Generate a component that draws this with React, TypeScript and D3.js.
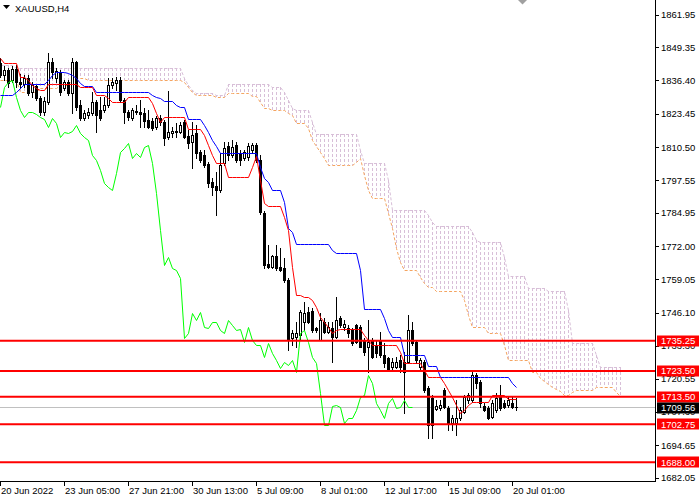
import React from "react";
import * as d3 from "d3";

// ---------- DATA ----------
const symbolTitle = "XAUUSD,H4";

const open = [
  1843.1, 1838.5, 1840.4, 1836.5, 1840.8, 1835.7, 1834.9, 1837.3, 1831.9, 1834.2,
  1829.5, 1824.1, 1828.0, 1843.5, 1837.3, 1839.6, 1833.4, 1835.7, 1831.5, 1843.5,
  1826.9, 1821.8, 1822.9, 1823.7, 1828.0, 1824.9, 1824.9, 1826.9, 1834.5, 1835.3,
  1836.5, 1828.8, 1824.1, 1821.8, 1824.5, 1824.1, 1823.7, 1821.0, 1820.6, 1818.3,
  1821.8, 1820.2, 1814.4, 1815.9, 1816.7, 1816.3, 1820.2, 1814.8, 1812.4, 1815.9,
  1808.6, 1807.4, 1803.9, 1796.9, 1795.4, 1793.8, 1804.3, 1810.9, 1807.4, 1811.3,
  1808.2, 1806.3, 1806.6, 1809.3, 1811.3, 1805.5, 1784.9, 1765.0, 1763.9, 1768.3,
  1763.9, 1763.5, 1758.8, 1736.3, 1736.7, 1737.5, 1742.5, 1746.4, 1746.8, 1740.2,
  1735.5, 1742.5, 1738.6, 1740.2, 1736.7, 1744.1, 1740.6, 1740.2, 1739.4, 1741.4,
  1740.6, 1735.5, 1732.9, 1735.5, 1733.7, 1735.5, 1729.7, 1728.6, 1725.1, 1725.1,
  1727.8, 1727.0, 1727.0, 1739.4, 1734.8, 1725.1, 1727.0, 1716.9, 1712.9, 1708.7,
  1709.1, 1716.1, 1709.1, 1703.3, 1703.3, 1705.2, 1707.5, 1712.2, 1712.2, 1721.9,
  1719.2, 1709.9, 1709.1, 1705.6, 1708.3, 1713.4, 1711.0, 1710.3, 1711.0, 1709.4,
];

const high = [
  1845.1, 1842.0, 1841.2, 1842.0, 1842.4, 1838.9, 1838.5, 1838.5, 1835.7, 1834.5,
  1830.3, 1829.9, 1847.0, 1845.1, 1841.2, 1840.4, 1836.5, 1836.5, 1845.1, 1843.9,
  1828.8, 1824.9, 1825.7, 1831.9, 1828.8, 1829.9, 1829.9, 1837.3, 1837.3, 1837.7,
  1837.7, 1829.5, 1824.9, 1825.7, 1826.9, 1828.8, 1825.7, 1824.9, 1821.8, 1822.6,
  1822.9, 1821.0, 1832.3, 1818.3, 1819.8, 1820.2, 1821.0, 1817.1, 1820.2, 1819.1,
  1809.3, 1809.3, 1804.7, 1798.5, 1800.8, 1808.2, 1812.4, 1812.4, 1813.2, 1812.4,
  1809.3, 1809.3, 1812.1, 1812.1, 1812.1, 1807.4, 1785.6, 1772.4, 1768.6, 1772.4,
  1771.3, 1767.4, 1759.6, 1739.4, 1742.5, 1747.2, 1750.3, 1748.5, 1748.1, 1740.6,
  1746.0, 1744.1, 1742.5, 1742.5, 1752.2, 1744.9, 1743.3, 1741.4, 1740.2, 1741.7,
  1741.4, 1736.3, 1743.3, 1736.3, 1735.5, 1738.6, 1734.4, 1729.0, 1728.6, 1729.0,
  1729.7, 1730.9, 1745.2, 1742.5, 1735.5, 1728.6, 1727.8, 1717.7, 1714.1, 1712.2,
  1712.2, 1716.9, 1709.9, 1706.4, 1712.2, 1709.5, 1714.2, 1714.9, 1723.9, 1722.7,
  1720.0, 1711.0, 1709.9, 1712.2, 1714.9, 1718.1, 1712.2, 1713.4, 1713.4, 1713.0,
];

const low = [
  1837.7, 1836.5, 1833.8, 1835.7, 1833.8, 1833.4, 1833.8, 1830.7, 1829.9, 1828.8,
  1822.9, 1822.9, 1827.2, 1837.3, 1835.7, 1830.7, 1832.6, 1830.7, 1823.8, 1824.9,
  1821.0, 1821.0, 1821.8, 1822.9, 1816.3, 1821.0, 1824.1, 1826.0, 1833.4, 1832.6,
  1828.0, 1819.8, 1821.0, 1821.0, 1823.3, 1818.3, 1818.3, 1817.9, 1817.1, 1817.5,
  1819.1, 1811.3, 1813.6, 1814.4, 1814.4, 1815.9, 1814.0, 1810.2, 1802.4, 1806.2,
  1804.7, 1802.8, 1794.9, 1791.9, 1784.1, 1793.0, 1803.5, 1805.5, 1806.6, 1804.7,
  1803.5, 1805.5, 1805.5, 1808.2, 1804.7, 1784.5, 1763.5, 1763.5, 1763.5, 1762.7,
  1762.3, 1758.0, 1731.6, 1733.7, 1732.9, 1735.5, 1739.4, 1742.2, 1738.6, 1738.6,
  1735.5, 1738.2, 1738.2, 1727.0, 1736.3, 1740.6, 1739.4, 1736.7, 1733.7, 1734.4,
  1732.9, 1729.7, 1723.1, 1728.6, 1729.0, 1729.0, 1725.1, 1723.5, 1723.9, 1724.7,
  1723.1, 1707.1, 1726.6, 1733.7, 1726.6, 1723.9, 1715.3, 1697.5, 1697.5, 1708.3,
  1708.3, 1709.1, 1700.6, 1700.6, 1698.6, 1704.4, 1707.1, 1711.0, 1711.4, 1716.9,
  1709.5, 1707.9, 1704.8, 1705.2, 1707.5, 1708.3, 1709.1, 1709.5, 1709.1, 1708.3,
];

const close = [
  1838.5, 1840.4, 1835.3, 1840.8, 1835.7, 1834.9, 1837.3, 1831.5, 1834.5, 1829.5,
  1824.1, 1828.4, 1843.5, 1839.6, 1840.0, 1831.9, 1835.7, 1831.5, 1843.5, 1826.0,
  1821.8, 1823.7, 1824.1, 1828.0, 1822.9, 1821.8, 1826.9, 1834.5, 1835.7, 1836.5,
  1828.8, 1824.1, 1822.2, 1824.9, 1824.1, 1823.3, 1820.6, 1818.3, 1817.9, 1821.8,
  1820.2, 1814.0, 1816.3, 1816.7, 1816.3, 1819.1, 1814.4, 1812.1, 1815.2, 1808.2,
  1805.5, 1803.5, 1796.5, 1794.9, 1793.8, 1803.5, 1810.1, 1807.4, 1810.6, 1805.5,
  1805.5, 1808.6, 1810.9, 1811.3, 1805.5, 1785.2, 1764.7, 1763.9, 1768.3, 1763.5,
  1762.7, 1758.8, 1735.5, 1738.2, 1738.2, 1746.4, 1746.0, 1742.5, 1739.4, 1739.4,
  1743.3, 1738.6, 1740.6, 1736.7, 1743.3, 1741.4, 1741.7, 1738.2, 1734.4, 1734.8,
  1732.9, 1730.9, 1734.8, 1729.0, 1730.5, 1729.7, 1726.6, 1723.9, 1727.0, 1727.0,
  1725.1, 1723.1, 1739.4, 1734.4, 1727.8, 1727.8, 1716.1, 1702.5, 1702.5, 1709.9,
  1710.3, 1709.5, 1703.3, 1705.2, 1705.2, 1708.3, 1713.4, 1714.2, 1721.9, 1718.8,
  1711.0, 1708.3, 1705.2, 1711.0, 1713.0, 1709.1, 1709.5, 1712.2, 1709.5, 1709.56,
];

// Tenkan-sen (red)
const tenkan = [
  1845.1, 1843.1, 1843.1, 1843.1, 1843.1, 1837.7, 1837.7, 1836.5, 1834.5, 1833.4,
  1832.6, 1832.6, 1834.9, 1834.9, 1834.9, 1834.9, 1834.9, 1834.9, 1834.9, 1834.9,
  1833.8, 1833.8, 1833.8, 1833.8, 1830.7, 1830.7, 1830.7, 1829.5, 1828.0, 1828.0,
  1828.0, 1828.0, 1829.9, 1829.9, 1829.9, 1829.9, 1829.9, 1829.9, 1827.6, 1823.7,
  1820.2, 1822.2, 1822.2, 1822.2, 1822.2, 1822.2, 1822.2, 1817.5, 1817.5, 1817.5,
  1817.5, 1815.2, 1811.3, 1807.4, 1804.3, 1804.3, 1804.3, 1798.9, 1798.9, 1798.9,
  1798.9, 1798.9, 1798.9, 1802.8, 1806.9, 1797.7, 1788.7, 1787.6, 1787.6, 1787.6,
  1787.6, 1783.3, 1778.3, 1763.9, 1752.9, 1752.9, 1752.2, 1752.2, 1751.1, 1748.5,
  1744.5, 1742.5, 1740.6, 1738.2, 1739.4, 1739.8, 1739.8, 1739.8, 1739.8, 1739.8,
  1739.8, 1737.5, 1735.5, 1733.7, 1733.7, 1733.7, 1733.7, 1733.7, 1733.7, 1733.7,
  1730.9, 1726.6, 1726.6, 1726.6, 1726.6, 1726.6, 1723.9, 1721.1, 1721.1, 1721.1,
  1721.1, 1718.8, 1716.1, 1713.4, 1710.3, 1707.1, 1708.3, 1710.3, 1711.4, 1711.4,
  1711.4, 1711.4, 1711.4, 1714.2, 1714.2, 1714.2, 1714.2, 1712.6, 1712.6, 1712.6,
];

// Kijun-sen (blue)
const kijun = [
  1830.7, 1830.7, 1830.7, 1830.7, 1831.9, 1833.4, 1834.9, 1834.9, 1834.9, 1834.9,
  1834.9, 1834.9, 1836.5, 1838.5, 1839.6, 1839.6, 1839.6, 1839.2, 1838.5, 1837.3,
  1835.3, 1834.2, 1834.2, 1834.2, 1831.9, 1831.9, 1831.9, 1831.9, 1831.9, 1831.9,
  1831.9, 1831.9, 1831.9, 1831.9, 1831.9, 1831.9, 1831.9, 1831.9, 1830.7, 1829.9,
  1829.5, 1828.4, 1828.4, 1828.4, 1826.9, 1826.0, 1826.0, 1821.4, 1821.4, 1821.4,
  1821.4, 1819.1, 1816.3, 1813.2, 1810.9, 1808.2, 1808.2, 1808.2, 1808.2, 1808.2,
  1808.2, 1808.2, 1808.2, 1808.2, 1808.2, 1802.8, 1798.5, 1796.9, 1793.8, 1793.8,
  1793.8, 1789.1, 1779.0, 1777.5, 1772.8, 1772.8, 1772.8, 1772.8, 1772.8, 1772.8,
  1772.8, 1772.8, 1772.8, 1770.5, 1769.3, 1769.3, 1769.3, 1769.3, 1769.3, 1769.3,
  1762.7, 1747.6, 1747.6, 1747.6, 1747.6, 1747.6, 1744.1, 1739.4, 1736.7, 1736.7,
  1736.7, 1729.7, 1729.7, 1729.7, 1729.7, 1729.7, 1729.7, 1725.4, 1725.4, 1725.4,
  1721.1, 1721.1, 1721.1, 1721.1, 1721.1, 1721.1, 1721.1, 1721.1, 1721.1, 1721.1,
  1721.1, 1721.1, 1721.1, 1721.1, 1721.1, 1721.1, 1721.1, 1721.1, 1718.8, 1717.3,
];

// Chikou span (green), plotted from bar 0 to bar 103
const chikou = [
  1826.0, 1833.8, 1835.7, 1836.5, 1829.9, 1824.9, 1822.2, 1824.1, 1824.1, 1823.3,
  1822.2, 1821.4, 1818.3, 1821.8, 1819.8, 1814.4, 1816.3, 1815.9, 1816.7, 1819.1,
  1815.9, 1814.4, 1813.2, 1807.4, 1805.5, 1801.6, 1796.5, 1794.9, 1793.8, 1800.4,
  1808.6, 1810.1, 1812.1, 1806.2, 1808.2, 1806.6, 1810.5, 1811.3, 1804.3, 1792.6,
  1778.3, 1764.7, 1767.8, 1763.5, 1762.7, 1759.6, 1736.3, 1738.2, 1746.0, 1743.3,
  1746.4, 1740.6, 1740.2, 1742.5, 1742.5, 1739.4, 1738.2, 1743.3, 1741.4, 1739.4,
  1739.8, 1734.8, 1740.6, 1735.5, 1733.7, 1733.7, 1729.0, 1734.4, 1730.5, 1727.8,
  1724.7, 1727.0, 1725.8, 1727.8, 1723.1, 1738.2, 1739.4, 1734.8, 1729.0, 1726.6,
  1714.9, 1702.5, 1702.5, 1709.9, 1710.3, 1709.5, 1703.3, 1705.2, 1705.2, 1708.3,
  1713.4, 1714.2, 1721.9, 1718.8, 1711.0, 1708.3, 1705.2, 1711.0, 1713.0, 1709.1,
  1709.5, 1712.2, 1709.5, 1709.56,
];

// Senkou span A (sandy brown) bars 0..155
const spanA = [
  1836.5, 1836.5, 1836.5, 1836.5, 1836.5, 1831.9, 1831.9, 1831.9, 1831.9, 1831.9,
  1833.4, 1833.4, 1833.4, 1833.4, 1833.4, 1834.5, 1834.5, 1834.5, 1837.3, 1837.3,
  1837.3, 1837.3, 1836.5, 1836.5, 1836.5, 1836.5, 1836.5, 1836.5, 1836.5, 1836.5,
  1836.5, 1836.5, 1836.5, 1836.5, 1836.5, 1836.5, 1836.5, 1836.5, 1836.5, 1836.5,
  1836.5, 1836.5, 1836.5, 1836.5, 1836.5, 1836.5, 1835.7, 1833.8, 1831.9, 1830.7,
  1830.7, 1830.7, 1830.7, 1830.7, 1829.9, 1829.9, 1829.9, 1831.5, 1831.5, 1831.5,
  1831.5, 1831.5, 1831.5, 1830.3, 1830.3, 1828.0, 1825.6, 1825.6, 1824.9, 1824.9,
  1824.9, 1824.9, 1823.7, 1822.9, 1819.8, 1819.8, 1819.8, 1817.9, 1813.2, 1810.9,
  1808.6, 1806.2, 1803.5, 1803.5, 1803.5, 1803.5, 1803.5, 1803.5, 1803.5, 1804.7,
  1806.2, 1799.6, 1793.8, 1790.7, 1790.7, 1790.7, 1790.7, 1784.9, 1779.0, 1771.3,
  1765.8, 1762.7, 1762.7, 1762.7, 1762.7, 1760.0, 1757.6, 1756.1, 1756.1, 1754.6,
  1754.6, 1754.6, 1754.6, 1754.6, 1754.6, 1754.6, 1751.1, 1745.2, 1740.6, 1740.6,
  1740.6, 1740.6, 1738.2, 1738.2, 1738.2, 1738.2, 1733.7, 1727.8, 1727.8, 1727.8,
  1727.8, 1727.8, 1727.8, 1723.1, 1723.1, 1720.8, 1719.6, 1718.4, 1717.3, 1716.5,
  1715.7, 1714.2, 1714.2, 1715.3, 1716.1, 1716.1, 1716.1, 1716.1, 1716.1, 1717.3,
  1717.3, 1717.3, 1717.3, 1717.3, 1715.3, 1713.8,
];

// Senkou span B (thistle) bars 0..155
const spanB = [
  1842.4, 1842.4, 1842.4, 1842.4, 1841.2, 1841.2, 1841.2, 1841.2, 1841.2, 1841.2,
  1841.2, 1841.2, 1841.2, 1841.2, 1841.2, 1841.2, 1841.2, 1841.2, 1841.2, 1841.2,
  1841.2, 1841.2, 1841.2, 1841.2, 1841.2, 1841.2, 1841.2, 1841.2, 1841.2, 1841.2,
  1841.2, 1841.2, 1841.2, 1841.2, 1841.2, 1841.2, 1841.2, 1841.2, 1841.2, 1841.2,
  1841.2, 1841.2, 1841.2, 1841.2, 1841.2, 1841.2, 1837.3, 1834.5, 1832.6, 1831.5,
  1831.5, 1831.5, 1831.5, 1831.5, 1830.7, 1830.7, 1830.7, 1834.9, 1834.9, 1834.9,
  1834.9, 1834.9, 1834.9, 1834.9, 1834.9, 1834.9, 1834.9, 1834.9, 1833.8, 1833.8,
  1833.8, 1831.9, 1828.8, 1825.6, 1824.9, 1824.9, 1824.9, 1824.9, 1820.2, 1815.5,
  1815.5, 1815.5, 1815.5, 1815.5, 1815.5, 1815.5, 1815.5, 1815.5, 1815.5, 1815.5,
  1809.3, 1804.3, 1804.3, 1804.3, 1804.3, 1804.3, 1804.3, 1797.7, 1786.0, 1786.0,
  1786.0, 1786.0, 1786.0, 1786.0, 1786.0, 1786.0, 1786.0, 1784.1, 1781.4, 1779.8,
  1779.8, 1779.8, 1779.8, 1779.8, 1779.8, 1779.8, 1779.8, 1779.8, 1777.5, 1774.4,
  1773.6, 1773.6, 1773.6, 1773.6, 1773.6, 1773.6, 1767.8, 1760.4, 1760.4, 1760.4,
  1760.4, 1760.4, 1755.7, 1755.7, 1755.7, 1755.7, 1755.7, 1754.6, 1754.6, 1754.6,
  1754.6, 1754.6, 1747.2, 1734.4, 1734.4, 1734.4, 1734.4, 1734.4, 1734.4, 1729.7,
  1725.1, 1725.1, 1725.1, 1725.1, 1725.1, 1725.1,
];

const levelLines = [1735.25, 1723.5, 1713.5, 1702.75, 1688.0];
const bidPrice = 1709.56;

const priceTicks = [
  1861.95, 1849.35, 1836.4, 1823.45, 1810.5, 1797.55, 1784.95, 1772.0,
  1759.05, 1746.1, 1733.3, 1720.55, 1707.6, 1694.65, 1682.05,
];

const timeTickBars = [0, 16, 32, 48, 64, 80, 96, 112, 128];
const timeTickLabels = [
  "20 Jun 2022", "23 Jun 05:00", "27 Jun 21:00", "30 Jun 13:00", "5 Jul 09:00",
  "8 Jul 01:00", "12 Jul 17:00", "15 Jul 09:00", "20 Jul 01:00",
];

// ---------- COMPONENT ----------
const FONT = "'Liberation Sans', Arial, sans-serif";
const FS = 9.5;

export default function App() {
  const axisX = 655;
  const axisY = 481;
  const x = d3.scaleLinear().domain([0, 1]).range([0.5, 4.5]);
  const y = d3.scaleLinear().domain([1680.74, 1867.61]).range([481, 0]);
  const ry = (v: number) => Math.round(y(v));

  const bars = d3.range(open.length);
  const cloudBars = d3.range(spanA.length);

  const mkLine = d3
    .line<number>()
    .x((_, i) => x(i))
    .y((d) => Math.round(y(d)) + 0.5);

  return (
    <div style={{ position: "absolute", left: 0, top: 0 }}>
      <svg width={700} height={500} style={{ display: "block", background: "#fff" }}>
        {/* Kumo hatching */}
        <g shapeRendering="crispEdges">
          {cloudBars.map((i) => {
            const a = spanA[i];
            const b = spanB[i];
            if (Math.abs(a - b) < 0.01) return null;
            return (
              <line
                key={"k" + i}
                x1={x(i)}
                x2={x(i)}
                y1={ry(Math.max(a, b))}
                y2={ry(Math.min(a, b))}
                stroke={a > b ? "#F4A460" : "#D8BFD8"}
                strokeWidth={1}
                strokeDasharray="3,2"
              />
            );
          })}
        </g>
        <path d={mkLine(spanB) || ""} fill="none" stroke="#D8BFD8" strokeWidth={1} strokeDasharray="3,2" />
        <path d={mkLine(spanA) || ""} fill="none" stroke="#F4A460" strokeWidth={1} strokeDasharray="3,2" />

        {/* bid line */}
        <line x1={0} x2={axisX} y1={Math.round(y(bidPrice)) + 0.5} y2={Math.round(y(bidPrice)) + 0.5} stroke="#C0C0C0" strokeWidth={1} />

        {/* candles */}
        <g shapeRendering="crispEdges">
          {bars.map((i) => {
            const cx = x(i);
            const o = open[i];
            const c = close[i];
            const top = ry(Math.max(o, c));
            const bot = ry(Math.min(o, c));
            const bull = c >= o;
            return (
              <g key={"c" + i}>
                <line x1={cx} x2={cx} y1={ry(high[i])} y2={ry(low[i]) + 1} stroke="#000" strokeWidth={1} />
                {bot - top < 1 ? (
                  <line x1={cx - 1.5} x2={cx + 1.5} y1={top + 0.5} y2={top + 0.5} stroke="#000" strokeWidth={1} />
                ) : bull ? (
                  <rect x={cx - 1} y={top + 0.5} width={2} height={bot - top} fill="#fff" stroke="#000" strokeWidth={1} />
                ) : (
                  <rect x={cx - 1.5} y={top} width={3} height={bot - top + 1} fill="#000" />
                )}
              </g>
            );
          })}
        </g>

        {/* Ichimoku lines */}
        <path d={mkLine(chikou) || ""} fill="none" stroke="#00FF00" strokeWidth={1} />
        <path d={mkLine(kijun) || ""} fill="none" stroke="#0000FF" strokeWidth={1} />
        <path d={mkLine(tenkan) || ""} fill="none" stroke="#FF0000" strokeWidth={1} />

        {/* horizontal levels */}
        {levelLines.map((v) => (
          <line key={"l" + v} x1={0} x2={axisX} y1={y(v)} y2={y(v)} stroke="#FF0000" strokeWidth={2} />
        ))}

        {/* axes */}
        <g shapeRendering="crispEdges">
          <line x1={axisX + 0.5} x2={axisX + 0.5} y1={0} y2={axisY + 1} stroke="#000" />
          <line x1={0} x2={axisX + 1} y1={axisY + 0.5} y2={axisY + 0.5} stroke="#000" />
          {priceTicks.map((v) => (
            <line key={"pt" + v} x1={axisX} x2={axisX + 4} y1={Math.round(y(v)) + 0.5} y2={Math.round(y(v)) + 0.5} stroke="#000" />
          ))}
          {timeTickBars.map((b) => (
            <line key={"tt" + b} x1={x(b)} x2={x(b)} y1={axisY} y2={axisY + 5} stroke="#000" />
          ))}
        </g>
        <g fontFamily={FONT} fontSize={FS} fill="#000">
          {priceTicks.map((v) => (
            <text key={"ptl" + v} x={661} y={y(v) + 3.5}>
              {v.toFixed(2)}
            </text>
          ))}
          {timeTickBars.map((b, k) => (
            <text key={"ttl" + b} x={x(b) + 0.5} y={494}>
              {timeTickLabels[k]}
            </text>
          ))}
        </g>

        {/* level price labels */}
        <g fontFamily={FONT} fontSize={FS}>
          {levelLines.map((v) => (
            <g key={"lb" + v}>
              <rect x={657} y={Math.round(y(v)) - 5.5} width={42} height={11} fill="#FF0000" />
              <text x={661} y={y(v) + 3.5} fill="#fff">
                {v.toFixed(2)}
              </text>
            </g>
          ))}
          <rect x={657} y={Math.round(y(bidPrice)) - 4.5} width={42} height={11} fill="#000" />
          <text x={661} y={y(bidPrice) + 4} fill="#fff">
            {bidPrice.toFixed(2)}
          </text>
        </g>

        {/* title */}
        <polygon points="3,5 10,5 6.5,9" fill="#000" />
        <text x={15} y={11.5} fontFamily={FONT} fontSize={FS} fill="#000">
          {symbolTitle}
        </text>

        {/* chart shift marker */}
        <polygon points="518,0 527,0 522.5,4.5" fill="#A0A0A0" />
      </svg>
    </div>
  );
}
